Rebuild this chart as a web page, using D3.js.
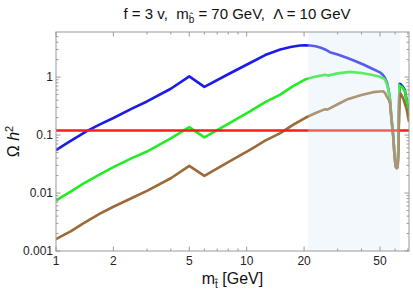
<!DOCTYPE html>
<html>
<head>
<meta charset="utf-8">
<script src="https://cdn.jsdelivr.net/npm/d3@7"></script>
<style>
  body { margin: 0; background: #fff; }
  text { font-family: "Liberation Sans", Arial, sans-serif; white-space: pre; }
</style>
</head>
<body>
<div id="vis"></div>
<script>
// values: [m_t in GeV, Omega h^2]
const blueCurve = [[1, 0.055], [1.1, 0.067], [1.2, 0.08], [1.3, 0.094], [1.45, 0.117], [1.7, 0.153],
    [2, 0.197], [2.5, 0.285], [3, 0.38], [4, 0.63], [5, 1.03], [6, 0.68], [8, 1.12], [10.4, 1.75],
    [12.5, 2.4], [15, 2.99], [17, 3.3], [19, 3.5], [20.2, 3.55], [21.5, 3.52], [23, 3.4], [24.5, 3.2],
    [25.8, 3.0], [27.3, 2.69], [30, 2.45], [33.5, 2.15], [37, 1.9], [40.9, 1.65], [45, 1.42], [50, 1.21],
    [52, 1.08], [53.1, 0.97], [54.5, 0.79], [55.5, 0.6], [56.4, 0.42], [57.5, 0.19], [58.7, 0.095],
    [59.6, 0.045], [60.4, 0.029], [61.2, 0.027], [61.9, 0.028], [62.5, 0.06], [62.9, 0.3], [63.3, 0.77],
    [64.5, 0.74], [66, 0.68], [67.5, 0.6], [69.5, 0.35], [71, 0.2]];
const greenCurve = [[1, 0.0074], [1.1, 0.009], [1.2, 0.0107], [1.39, 0.0145], [1.7, 0.021], [2, 0.028],
    [2.5, 0.04], [3, 0.052], [4, 0.088], [5, 0.137], [6, 0.091], [8, 0.156], [10.4, 0.256], [12.5, 0.37],
    [15, 0.5], [17.5, 0.7], [20.2, 0.905], [23, 1.02], [25.8, 1.1], [26.7, 1.06], [30, 1.16], [34.8, 1.23],
    [40, 1.18], [45, 1.1], [50, 1.01], [52, 0.95], [53.1, 0.9], [54.5, 0.74], [55.5, 0.58], [56.4, 0.41],
    [57.5, 0.185], [58.7, 0.095], [59.6, 0.045], [60.4, 0.029], [61.2, 0.027], [61.9, 0.028], [62.5, 0.06],
    [62.9, 0.28], [63.3, 0.72], [64.5, 0.7], [66, 0.65], [67.5, 0.58], [69.5, 0.34], [71, 0.2]];
const brownCurve = [[1, 0.0016], [1.1, 0.0019], [1.2, 0.0022], [1.39, 0.003], [1.7, 0.0044], [2, 0.0058],
    [2.5, 0.0082], [3, 0.0109], [4, 0.018], [5, 0.0294], [6, 0.0198], [8, 0.034], [10.4, 0.0557],
    [12.5, 0.08], [15, 0.108], [17.5, 0.15], [20.2, 0.197], [23, 0.24], [25.8, 0.28], [26.5, 0.275],
    [30, 0.34], [33.5, 0.41], [40, 0.49], [46, 0.55], [50, 0.565], [52, 0.57], [53.2, 0.53], [54.2, 0.47],
    [55.5, 0.41], [56.4, 0.358], [57.5, 0.18], [58.7, 0.095], [59.6, 0.045], [60.4, 0.029], [61.2, 0.027],
    [61.9, 0.028], [62.5, 0.06], [62.9, 0.2], [63.3, 0.45], [63.9, 0.52], [65, 0.48], [66.3, 0.42],
    [69, 0.28], [71, 0.17]];
const relicValue = 0.12;
const shadeBand = [21, 63.5];

const xTicks = [1, 2, 5, 10, 20, 50];
const xTickLabels = ["1", "2", "5", "10", "20", "50"];
const xMinorTicks = [3, 4, 6, 7, 8, 9, 30, 40, 60, 70];
const yTicks = [0.001, 0.01, 0.1, 1];
const yTickLabels = ["0.001", "0.01", "0.1", "1"];
const yMinorTicks = [0.002, 0.003, 0.004, 0.005, 0.006, 0.007, 0.008, 0.009,
    0.02, 0.03, 0.04, 0.05, 0.06, 0.07, 0.08, 0.09,
    0.2, 0.3, 0.4, 0.5, 0.6, 0.7, 0.8, 0.9, 2, 3, 4, 5];

const W = 413, H = 293;
const frame = {left: 56, right: 409, top: 32, bottom: 251};

const svg = d3.select("#vis").append("svg")
    .attr("width", W)
    .attr("height", H);

const x = d3.scaleLog().domain([1, 71]).range([frame.left, frame.right]);
const y = d3.scaleLog().domain([0.001, 6]).range([frame.bottom, frame.top]);

// clip for the curves
svg.append("clipPath").attr("id", "plotclip")
    .append("rect")
    .attr("x", frame.left).attr("y", frame.top)
    .attr("width", frame.right - frame.left).attr("height", frame.bottom - frame.top);

const line = d3.line()
    .x(d => x(d[0]))
    .y(d => y(d[1]));

const curves = svg.append("g").attr("clip-path", "url(#plotclip)");

const series = [
    {data: blueCurve, color: "#1c1ce8"},
    {data: greenCurve, color: "#22ec22"},
    {data: brownCurve, color: "#9c6a38"}
];

curves.selectAll(".curve")
    .data(series)
    .enter()
    .append("path")
    .attr("class", "curve")
    .attr("d", d => line(d.data))
    .attr("fill", "none")
    .attr("stroke", d => d.color)
    .attr("stroke-width", 2.6)
    .attr("stroke-linejoin", "round");

curves.append("line")
    .attr("x1", x(1)).attr("x2", x(71))
    .attr("y1", y(relicValue)).attr("y2", y(relicValue))
    .attr("stroke", "#ff1a1a")
    .attr("stroke-width", 2.6);

// shaded band on top, lightens what is under it
curves.append("rect")
    .attr("x", x(shadeBand[0]))
    .attr("y", frame.top)
    .attr("width", x(shadeBand[1]) - x(shadeBand[0]))
    .attr("height", frame.bottom - frame.top)
    .attr("fill", "#d8e8f7")
    .attr("opacity", 0.32);

////////// frame and ticks //////////

const frameColor = "#9a9a9a";
const axes = svg.append("g");

axes.append("rect")
    .attr("x", frame.left).attr("y", frame.top)
    .attr("width", frame.right - frame.left).attr("height", frame.bottom - frame.top)
    .attr("fill", "none")
    .attr("stroke", frameColor)
    .attr("stroke-width", 1);

[{vals: xTicks, len: 4.5}, {vals: xMinorTicks, len: 2.5}].forEach(t => {
    axes.selectAll(null).data(t.vals).enter().append("line")
        .attr("x1", d => x(d)).attr("x2", d => x(d))
        .attr("y1", frame.bottom).attr("y2", frame.bottom - t.len)
        .attr("stroke", frameColor);
    axes.selectAll(null).data(t.vals).enter().append("line")
        .attr("x1", d => x(d)).attr("x2", d => x(d))
        .attr("y1", frame.top).attr("y2", frame.top + t.len)
        .attr("stroke", frameColor);
});

[{vals: yTicks, len: 4.5}, {vals: yMinorTicks, len: 2.5}].forEach(t => {
    axes.selectAll(null).data(t.vals).enter().append("line")
        .attr("x1", frame.left).attr("x2", frame.left + t.len)
        .attr("y1", d => y(d)).attr("y2", d => y(d))
        .attr("stroke", frameColor);
    axes.selectAll(null).data(t.vals).enter().append("line")
        .attr("x1", frame.right).attr("x2", frame.right - t.len)
        .attr("y1", d => y(d)).attr("y2", d => y(d))
        .attr("stroke", frameColor);
});

axes.selectAll(".xlab")
    .data(xTicks)
    .enter()
    .append("text")
    .attr("class", "xlab")
    .attr("x", d => x(d))
    .attr("y", frame.bottom + 14)
    .attr("text-anchor", "middle")
    .attr("font-size", 12)
    .attr("fill", "#222")
    .text((d, i) => xTickLabels[i]);

axes.selectAll(".ylab")
    .data(yTicks)
    .enter()
    .append("text")
    .attr("class", "ylab")
    .attr("x", frame.left - 3)
    .attr("y", d => y(d) + 4)
    .attr("text-anchor", "end")
    .attr("font-size", 12)
    .attr("fill", "#222")
    .text((d, i) => yTickLabels[i]);

////////// labels //////////

let title = svg.append("text")
    .attr("x", 237)
    .attr("y", 19)
    .attr("text-anchor", "middle")
    .attr("font-size", 15)
    .attr("fill", "#111");
title.append("tspan").text("f = 3 v,  m");
title.append("tspan").attr("font-size", 10).attr("dy", 4).text("b\u0302");
title.append("tspan").attr("dy", -4).text(" = 70 GeV,  \u039B = 10 GeV");

let xlabel = svg.append("text")
    .attr("x", (frame.left + frame.right) / 2)
    .attr("y", 284)
    .attr("text-anchor", "middle")
    .attr("font-size", 16)
    .attr("fill", "#111");
xlabel.append("tspan").text("m");
xlabel.append("tspan").attr("font-size", 10).attr("dy", 4).text("t\u0302");
xlabel.append("tspan").attr("dy", -4).text(" [GeV]");

let ylabel = svg.append("text")
    .attr("transform", "translate(19," + ((frame.top + frame.bottom) / 2) + ") rotate(-90)")
    .attr("text-anchor", "middle")
    .attr("font-size", 16)
    .attr("fill", "#111");
ylabel.append("tspan").text("\u03A9 ");
ylabel.append("tspan").attr("font-style", "italic").text("h");
ylabel.append("tspan").attr("font-size", 11).attr("dy", -6).text("2");
</script>
</body>
</html>
